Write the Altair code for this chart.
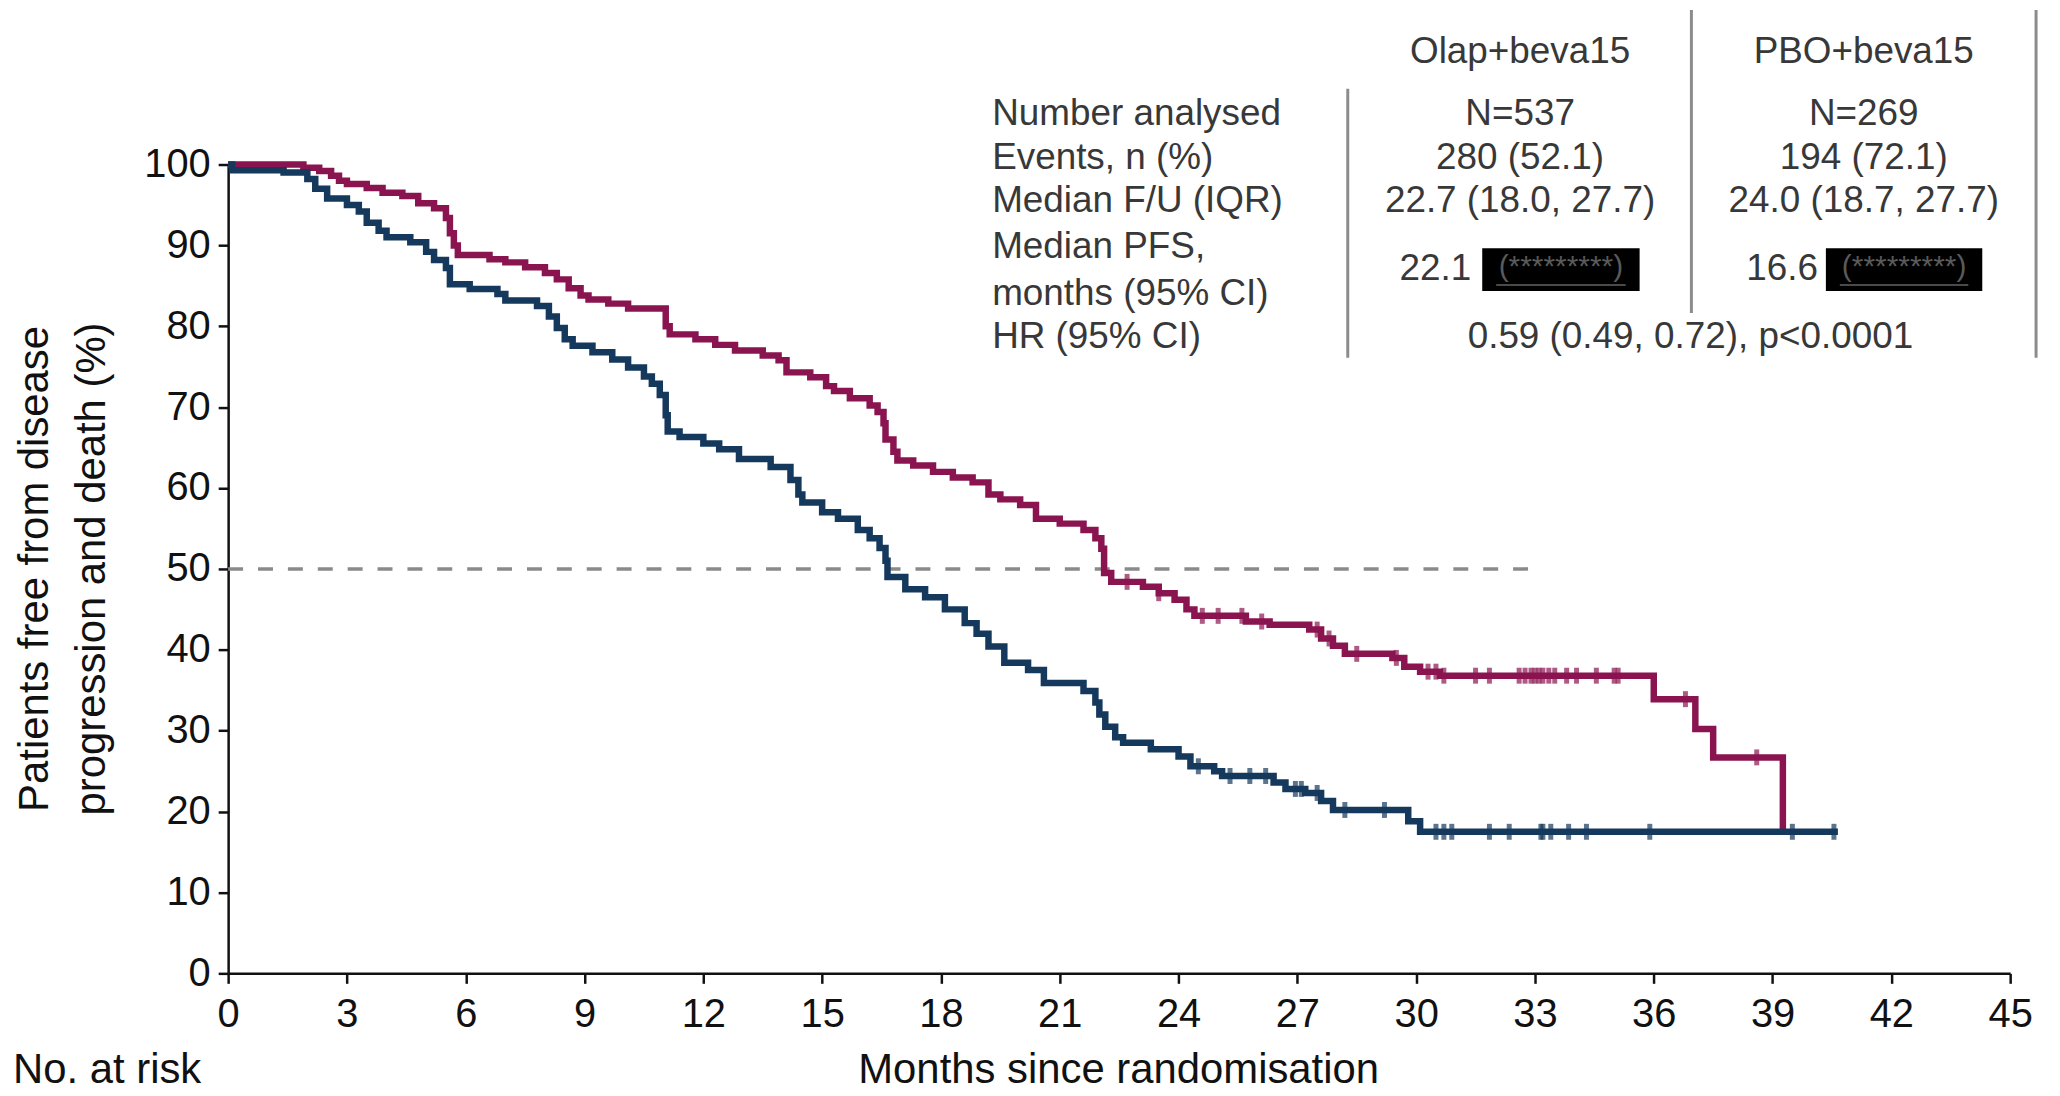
import altair as alt
import pandas as pd

# ---------------- data ----------------
olap_t = [0, 1.9, 2.3, 2.6, 2.8, 3.0, 3.5, 3.9, 4.4, 4.8, 5.2, 5.5, 5.6, 5.7, 5.8,
          6.6, 7.0, 7.5, 8.0, 8.3, 8.6, 8.9, 9.1, 9.6, 10.1, 11.05, 11.15, 11.8, 12.3,
          12.8, 13.5, 13.9, 14.1, 14.7, 15.1, 15.3, 15.7, 16.2, 16.4, 16.55, 16.6,
          16.8, 16.9, 17.3, 17.8, 18.3, 18.8, 19.2, 19.5, 20.0, 20.4, 21.0, 21.6,
          21.9, 22.05, 22.12, 22.3, 23.1, 23.5, 23.9, 24.2, 24.4, 25.7, 26.3, 27.3,
          27.6, 27.9, 28.2, 29.4, 29.7, 30.1, 30.6, 36.0, 37.05, 37.5, 39.26]
olap_s = [100, 99.6, 99.2, 98.6, 98.0, 97.6, 97.1, 96.5, 96.1, 95.2, 94.6, 93.4, 91.5,
          90.0, 88.8, 88.3, 87.9, 87.3, 86.6, 85.8, 84.7, 83.8, 83.3, 82.8, 82.2, 80.0,
          79.0, 78.4, 77.7, 77.0, 76.4, 75.8, 74.3, 73.7, 72.6, 72.0, 71.1, 70.2, 69.4,
          68.0, 66.0, 64.5, 63.4, 62.8, 62.0, 61.3, 60.7, 59.2, 58.6, 57.9, 56.2, 55.6,
          54.8, 53.8, 52.5, 49.5, 48.4, 47.8, 47.0, 46.2, 45.0, 44.2, 43.5, 43.1, 42.5,
          41.4, 40.5, 39.5, 39.0, 37.9, 37.3, 36.8, 33.9, 30.2, 26.7, 17.5]
olap_censor = [22.7, 23.5, 24.6, 25.0, 25.6, 26.1, 27.5, 27.8, 28.5, 29.5, 30.3, 30.5,
               30.7, 31.5, 31.85, 32.6, 32.75, 32.9, 33.0, 33.1, 33.2, 33.35, 33.5,
               33.8, 34.05, 34.55, 35.0, 35.1, 36.8, 38.6]

pbo_t = [0, 0.1, 1.4, 2.0, 2.2, 2.5, 3.0, 3.3, 3.5, 3.8, 4.0, 4.6, 5.0, 5.2, 5.5, 5.6,
         6.1, 6.8, 7.0, 7.8, 8.1, 8.3, 8.5, 8.7, 9.2, 9.7, 10.1, 10.5, 10.7, 10.9, 11.05,
         11.1, 11.4, 12.0, 12.4, 12.9, 13.7, 14.2, 14.4, 14.5, 15.0, 15.4, 15.9, 16.2,
         16.45, 16.6, 16.65, 17.1, 17.6, 18.1, 18.6, 18.9, 19.2, 19.6, 20.2, 20.6, 21.6,
         21.9, 22.0, 22.15, 22.4, 22.6, 23.3, 24.0, 24.3, 24.9, 25.1, 26.4, 26.7, 27.2,
         27.6, 27.9, 29.8, 30.1, 40.65]
pbo_s = [100, 99.3, 99.0, 98.2, 97.0, 95.8, 95.0, 94.2, 92.8, 91.8, 91.0, 90.4, 89.2,
         88.2, 87.2, 85.2, 84.6, 84.0, 83.2, 82.5, 81.2, 79.8, 78.4, 77.6, 76.8, 75.9,
         74.9, 73.8, 72.9, 71.5, 69.0, 67.0, 66.3, 65.5, 64.8, 63.6, 62.6, 61.0, 59.2,
         58.2, 57.0, 56.2, 54.8, 53.8, 52.6, 51.0, 49.0, 47.5, 46.5, 45.0, 43.3, 42.0,
         40.4, 38.4, 37.5, 35.9, 34.9, 33.5, 32.0, 30.5, 29.2, 28.5, 27.7, 26.8, 25.6,
         25.0, 24.4, 23.6, 22.8, 22.3, 21.3, 20.2, 18.8, 17.5, 17.5]
pbo_censor = [24.5, 25.3, 25.8, 26.2, 26.95, 27.1, 27.5, 28.2, 29.2, 30.5, 30.7, 30.9,
              31.85, 32.35, 33.15, 33.2, 33.4, 33.85, 34.3, 35.9, 39.5, 40.55]

x_ticks = list(range(0, 46, 3))
y_ticks = list(range(0, 101, 10))

row_labels = ["Number analysed", "Events, n (%)", "Median F/U (IQR)",
              "Median PFS,", "months (95% CI)", "HR (95% CI)"]
col_headers = ["Olap+beva15", "PBO+beva15"]
olap_col = ["N=537", "280 (52.1)", "22.7 (18.0, 27.7)"]
pbo_col = ["N=269", "194 (72.1)", "24.0 (18.7, 27.7)"]
median_pfs = ["22.1", "16.6"]
hr_text = "0.59 (0.49, 0.72), p<0.0001"
redacted = "(*********)"

RED = "#8A1450"
BLUE = "#15395C"
FONT = "Liberation Sans"

# ---------------- geometry ----------------
W, H = 1789, 812
OX, OY = 229, 163  # page position of plot origin


def step_at(ts, ss, t):
    v = ss[0]
    for ti, si in zip(ts, ss):
        if ti <= t:
            v = si
    return v


olap_df = pd.DataFrame({"t": olap_t, "s": olap_s})
pbo_df = pd.DataFrame({"t": pbo_t, "s": pbo_s})
olap_c = pd.DataFrame({"t": olap_censor, "s": [step_at(olap_t, olap_s, c) for c in olap_censor]})
pbo_c = pd.DataFrame({"t": pbo_censor, "s": [step_at(pbo_t, pbo_s, c) for c in pbo_censor]})

xs = alt.Scale(domain=[0, 45], nice=False, zero=False)
ys = alt.Scale(domain=[0, 100], nice=False)

xaxis = alt.Axis(values=x_ticks, title=None, grid=False, labelFontSize=40, labelFont=FONT,
                 labelColor="#111", tickSize=10, tickWidth=2.5, tickColor="#111",
                 domainColor="#111", domainWidth=2.5, labelPadding=11, labelFlush=False)
yaxis = alt.Axis(values=y_ticks, title=None, grid=False, labelFontSize=40, labelFont=FONT,
                 labelColor="#111", tickSize=10, tickWidth=2.5, tickColor="#111",
                 domainColor="#111", domainWidth=2.5, labelPadding=8, labelFlush=False)

X = alt.X("t:Q", scale=xs, axis=xaxis)
Y = alt.Y("s:Q", scale=ys, axis=yaxis)


def km_line(df, color):
    return alt.Chart(df).mark_line(interpolate="step-after", strokeWidth=6.5, color=color).encode(x=X, y=Y)


def km_cens(df, color):
    return alt.Chart(df).mark_tick(orient="vertical", size=16, thickness=5, color=color).encode(x=X, y=Y)


median_line = alt.Chart(pd.DataFrame({"t": [0, 33], "s": [50, 50]})).mark_line(
    color="#8a8a8a", strokeWidth=3.5, strokeDash=[15, 15]).encode(x=X, y=Y)

one = pd.DataFrame({"k": [0]})


def txt(text, px, py, size=37, color="#383838", align="center", angle=0):
    kw = dict(align=align, baseline="middle", fontSize=size, font=FONT, color=color)
    if angle:
        kw["angle"] = angle
    return alt.Chart(one).mark_text(**kw).encode(
        x=alt.value(px - OX), y=alt.value(py - OY), text=alt.value(text))


def vrule(px, py1, py2, color="#8c8c8c", width=3):
    return alt.Chart(one).mark_rule(color=color, strokeWidth=width).encode(
        x=alt.value(px - OX), y=alt.value(py1 - OY), y2=alt.value(py2 - OY))


def box(px1, px2, py1, py2):
    return alt.Chart(one).mark_rect(color="black").encode(
        x=alt.value(px1 - OX), x2=alt.value(px2 - OX), y=alt.value(py1 - OY), y2=alt.value(py2 - OY))


def hrule(px1, px2, py, color="#4a4a4a", width=2):
    return alt.Chart(one).mark_rule(color=color, strokeWidth=width).encode(
        x=alt.value(px1 - OX), x2=alt.value(px2 - OX), y=alt.value(py - OY))


layers = [median_line,
          km_line(olap_df, RED), km_cens(olap_c, RED),
          km_line(pbo_df, BLUE), km_cens(pbo_c, BLUE)]

# axis titles
layers += [txt("Patients free from disease", 35, 569, size=42, color="#111", angle=270),
           txt("progression and death (%)", 92, 569, size=42, color="#111", angle=270),
           txt("No. at risk", 13, 1072, size=42, color="#111", align="left"),
           txt("Months since randomisation", 1123, 1072, size=42, color="#111")]

# table
row_y = [112, 157, 200, 246, 293, 336]
for lab, yy in zip(row_labels, row_y):
    layers.append(txt(lab, 996, yy, align="left"))
col_x = [1526, 1871]
for h, cx in zip(col_headers, col_x):
    layers.append(txt(h, cx, 50))
for v, yy in zip(olap_col, row_y[:3]):
    layers.append(txt(v, col_x[0], yy))
for v, yy in zip(pbo_col, row_y[:3]):
    layers.append(txt(v, col_x[1], yy))
layers += [txt(median_pfs[0], 1441, 268), txt(median_pfs[1], 1789, 268)]
for bx1, bx2 in [(1488, 1646), (1833, 1990)]:
    layers += [box(bx1, bx2, 247, 290),
               txt(redacted, (bx1 + bx2) / 2, 266, size=30, color="#5a5a5a"),
               hrule(bx1 + 14, bx2 - 14, 284)]
layers.append(txt(hr_text, 1697, 336))
layers += [vrule(1353, 87, 357), vrule(1698, 8, 312), vrule(2044, 8, 357)]

chart = alt.layer(*layers).properties(
    width=W, height=H,
    autosize=alt.AutoSizeParams(type="none"),
    padding={"left": OX - 8, "top": OY - 8, "right": 42, "bottom": 120},
    background="white",
).configure_view(stroke=None)

chart.save("out.html", embed_options={"renderer": "svg", "actions": False})
